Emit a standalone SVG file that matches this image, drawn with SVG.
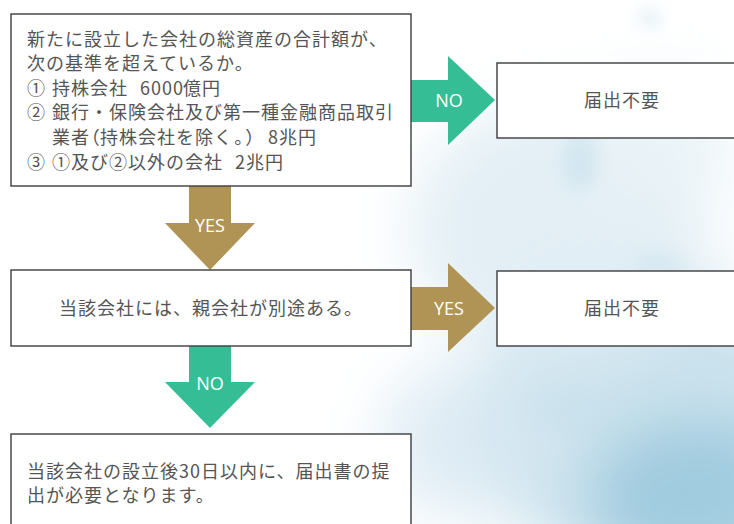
<svg xmlns="http://www.w3.org/2000/svg" width="734" height="524" viewBox="0 0 734 524">
<defs>
<filter id="blur" x="-50%" y="-50%" width="200%" height="200%"><feGaussianBlur stdDeviation="30"/></filter>
<filter id="blur2" x="-50%" y="-50%" width="200%" height="200%"><feGaussianBlur stdDeviation="8"/></filter>
<style>
.box{fill:#fff;stroke:#3c3c3c;stroke-width:1.4}
.t{font-family:"Noto Sans CJK JP","Noto Sans",sans-serif;font-size:18px;fill:#555;letter-spacing:1px}
.p{font-feature-settings:"palt" 1;letter-spacing:0}
.lbl{font-family:"Open Sans","Liberation Sans",sans-serif;font-size:18px;fill:#fff;text-anchor:middle}
.green{fill:#35be96}
.gold{fill:#b09456}
</style>
</defs>
<rect width="734" height="524" fill="#fff"/>
<g id="background" filter="url(#blur)">
<ellipse cx="640" cy="420" rx="170" ry="150" fill="#bddbe9" opacity="0.8"/>
<ellipse cx="700" cy="500" rx="110" ry="80" fill="#96c6dc" opacity="0.8"/>
<ellipse cx="560" cy="230" rx="150" ry="130" fill="#e0edf4" opacity="0.9"/>
<ellipse cx="470" cy="440" rx="90" ry="80" fill="#d8e9f2" opacity="0.8"/>
<ellipse cx="660" cy="140" rx="80" ry="70" fill="#e8f2f7" opacity="0.8"/>
</g>
<g id="smoke" filter="url(#blur2)" opacity="0.35">
<ellipse cx="580" cy="160" rx="18" ry="30" fill="#b5d6e4"/>
<ellipse cx="660" cy="265" rx="25" ry="14" fill="#c9e1ec"/>
<ellipse cx="560" cy="410" rx="35" ry="20" fill="#c6e0ec"/>
<ellipse cx="650" cy="18" rx="12" ry="8" fill="#a9cfe0"/>
</g>
<g id="connectors">
<g id="arrow-no-1">
<polygon class="green" points="411,80 448,80 448,56 495,100 448,145 448,122 411,122"/>
<text class="lbl" x="449" y="106.5">NO</text>
</g>
<g id="arrow-yes-1">
<polygon class="gold" points="189,186 231,186 231,223 255,223 210,270 165,223 189,223"/>
<text class="lbl" x="210" y="231.5">YES</text>
</g>
<g id="arrow-yes-2">
<polygon class="gold" points="411,287 448,287 448,263 495,308 448,352 448,330 411,330"/>
<text class="lbl" x="449" y="314.5">YES</text>
</g>
<g id="arrow-no-2">
<polygon class="green" points="189,346 231,346 231,382 255,382 210,428 165,382 189,382"/>
<text class="lbl" x="210" y="389.5">NO</text>
</g>
</g>
<g id="node-question">
<rect class="box" x="11" y="14" width="400" height="172"/>
<text class="t" x="27" y="45.5">新たに設立した会社の総資産の合計額が、</text>
<text class="t" x="27" y="70">次の基準を超えているか。</text>
<text class="t" y="94.5"><tspan x="27">①</tspan><tspan x="52">持株会社</tspan><tspan x="140">6000</tspan><tspan x="183">億円</tspan></text>
<text class="t" y="119"><tspan x="27">②</tspan><tspan x="52">銀行・保険会社及び第一種金融商品取引</tspan></text>
<text class="t" y="144"><tspan x="52">業者</tspan><tspan class="p" x="90">（</tspan><tspan x="100">持株会社を除く</tspan><tspan class="p" x="234">。</tspan><tspan class="p" x="246">）</tspan><tspan x="268">8兆円</tspan></text>
<text class="t" y="168.5"><tspan x="27">③</tspan><tspan x="52">①及び②以外の会社</tspan><tspan x="235">2兆円</tspan></text>
</g>
<g id="node-result-1">
<rect class="box" x="497" y="63" width="250" height="75"/>
<text class="t" x="622" y="106.5" text-anchor="middle">届出不要</text>
</g>
<g id="node-parent">
<rect class="box" x="11" y="270" width="400" height="76"/>
<text class="t" x="211" y="314.5" text-anchor="middle">当該会社には、親会社が別途ある。</text>
</g>
<g id="node-result-2">
<rect class="box" x="497" y="271" width="250" height="75"/>
<text class="t" x="622" y="314.5" text-anchor="middle">届出不要</text>
</g>
<g id="node-notify">
<rect class="box" x="11" y="434" width="400" height="100"/>
<text class="t" x="27" y="478">当該会社の設立後30日以内に、届出書の提</text>
<text class="t" x="27" y="501.5">出が必要となります。</text>
</g>
</svg>
